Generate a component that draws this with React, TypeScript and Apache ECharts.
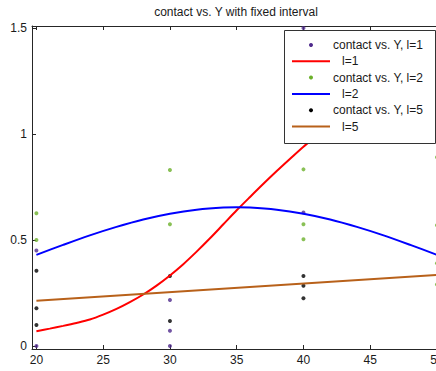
import React, { useEffect, useRef } from 'react';
import * as echarts from 'echarts';

const xTicks = [20, 25, 30, 35, 40, 45, 50];
const yTicks = [0, 0.5, 1, 1.5];

// scatter samples
const l1X = [20, 20, 30, 30, 30, 40, 40];
const l1Y = [0, 0.45, 0.217, 0.072, 0, 1.5, 0.63];
const l2X = [20, 20, 30, 30, 40, 40, 40, 50, 50, 50, 50];
const l2Y = [0.626, 0.5, 0.83, 0.574, 0.833, 0.574, 0.503, 0.89, 0.57, 0.39, 0.29];
const l5X = [20, 20, 20, 30, 30, 40, 40, 40];
const l5Y = [0.355, 0.178, 0.099, 0.33, 0.118, 0.33, 0.284, 0.225];

// fitted curves
const redX = [20, 21, 22, 23, 24, 25, 26, 27, 28, 29, 30, 31, 32, 33, 34, 35, 36, 37, 38, 39, 40, 41, 42, 43, 44, 45, 46, 47, 48, 49, 50];
const redY = [0.07, 0.082, 0.095, 0.109, 0.125, 0.148, 0.175, 0.207, 0.243, 0.285, 0.333, 0.386, 0.445, 0.508, 0.574, 0.64, 0.703, 0.765, 0.825, 0.883, 0.94, 0.99, 1.04, 1.085, 1.13, 1.17, 1.21, 1.245, 1.28, 1.31, 1.34];
const blueX = [20, 22, 24, 26, 28, 30, 32, 34, 35, 36, 38, 40, 42, 44, 46, 48, 50];
const blueY = [0.43, 0.477, 0.522, 0.562, 0.597, 0.624, 0.643, 0.653, 0.654, 0.653, 0.643, 0.624, 0.597, 0.562, 0.522, 0.477, 0.43];
const brownX = [20, 50];
const brownY = [0.213, 0.335];

const legendLabels = ['contact vs. Y, l=1', 'l=1', 'contact vs. Y, l=2', 'l=2', 'contact vs. Y, l=5', 'l=5'];

const PURPLE = '#4f2a8c';
const GREEN = '#6bb02a';
const BLACK = '#000000';
const RED = '#ff0000';
const BLUE = '#0000ff';
const BROWN = '#b8611a';
const FONT = '"Liberation Sans", Arial, sans-serif';
const TXT = '#1a1a1a';
const AX = '#262626';

const zip = (xs: number[], ys: number[]) => xs.map((x, i) => [x, ys[i]]);

function buildOption() {
  const rowY = (i: number) => 45 + i * 16.3;
  const legendKinds: Array<['dot' | 'line', string]> = [
    ['dot', PURPLE], ['line', RED], ['dot', GREEN], ['line', BLUE], ['dot', BLACK], ['line', BROWN],
  ];
  const Z = 100;
  const legendEls: any[] = [
    { type: 'rect', z: Z, shape: { x: 284.5, y: 30.5, width: 151, height: 113 }, style: { fill: '#fff', stroke: '#333', lineWidth: 1 } },
  ];
  legendKinds.forEach(([kind, color], i) => {
    const y = rowY(i);
    if (kind === 'dot') {
      legendEls.push({ type: 'circle', z: Z + 1, shape: { cx: 311, cy: y, r: 2 }, style: { fill: color } });
    } else {
      legendEls.push({ type: 'line', z: Z + 1, shape: { x1: 292, y1: y, x2: 330, y2: y }, style: { stroke: color, lineWidth: 2 } });
    }
    legendEls.push({
      type: 'text',
      z: Z + 1,
      x: kind === 'dot' ? 333 : 342,
      y,
      style: { text: legendLabels[i], fill: TXT, font: `12px ${FONT}`, verticalAlign: 'middle' },
    });
  });

  const xAxisBase = {
    type: 'value' as const,
    min: 19.67,
    max: 50.3,
    splitLine: { show: false },
    axisLine: { show: true, onZero: false, lineStyle: { color: AX, width: 1 } },
    axisTick: { show: true, inside: true, length: 4, customValues: xTicks, lineStyle: { color: AX } },
  };
  const yAxisBase = {
    type: 'value' as const,
    min: -0.014,
    max: 1.509,
    splitLine: { show: false },
    axisLine: { show: true, onZero: false, lineStyle: { color: AX, width: 1 } },
    axisTick: { show: true, inside: true, length: 4, customValues: yTicks, lineStyle: { color: AX } },
  };

  const scatter = (name: string, xs: number[], ys: number[], color: string) => ({
    type: 'scatter',
    name,
    data: zip(xs, ys),
    symbol: 'circle',
    symbolSize: 4,
    itemStyle: { color },
    xAxisIndex: 0,
    yAxisIndex: 0,
  });
  const line = (name: string, xs: number[], ys: number[], color: string) => ({
    type: 'line',
    name,
    data: zip(xs, ys),
    smooth: 0.3,
    showSymbol: false,
    symbol: 'none',
    lineStyle: { color, width: 2 },
    itemStyle: { color },
    xAxisIndex: 0,
    yAxisIndex: 0,
  });

  return {
    animation: false,
    backgroundColor: '#fff',
    title: {
      text: 'contact vs. Y with fixed interval',
      left: 236,
      top: 6,
      textAlign: 'center',
      padding: 0,
      textStyle: { fontFamily: FONT, fontSize: 12, fontWeight: 'normal', color: TXT },
    },
    grid: { left: 32, top: 26, width: 409, height: 323, containLabel: false, outerBoundsMode: 'none' },
    xAxis: [
      { ...xAxisBase, position: 'bottom', axisLabel: { customValues: xTicks, color: TXT, fontFamily: FONT, fontSize: 12, margin: 5 } },
      { ...xAxisBase, position: 'top', axisLabel: { show: false } },
    ],
    yAxis: [
      { ...yAxisBase, position: 'left', axisLabel: { customValues: yTicks, color: TXT, fontFamily: FONT, fontSize: 12, margin: 5 } },
      { ...yAxisBase, position: 'right', axisLabel: { show: false } },
    ],
    series: [
      scatter(legendLabels[0], l1X, l1Y, PURPLE),
      line(legendLabels[1], redX, redY, RED),
      scatter(legendLabels[2], l2X, l2Y, GREEN),
      line(legendLabels[3], blueX, blueY, BLUE),
      scatter(legendLabels[4], l5X, l5Y, BLACK),
      line(legendLabels[5], brownX, brownY, BROWN),
    ],
    graphic: legendEls,
  };
}

export default function App() {
  const ref = useRef<HTMLDivElement>(null);
  useEffect(() => {
    if (!ref.current) return;
    const chart = echarts.init(ref.current, null, { renderer: 'svg' });
    chart.setOption(buildOption() as any);
    return () => chart.dispose();
  }, []);
  return (
    <div
      ref={ref}
      style={{ position: 'fixed', left: 0, top: 0, width: 436, height: 371, background: '#fff' }}
    />
  );
}
